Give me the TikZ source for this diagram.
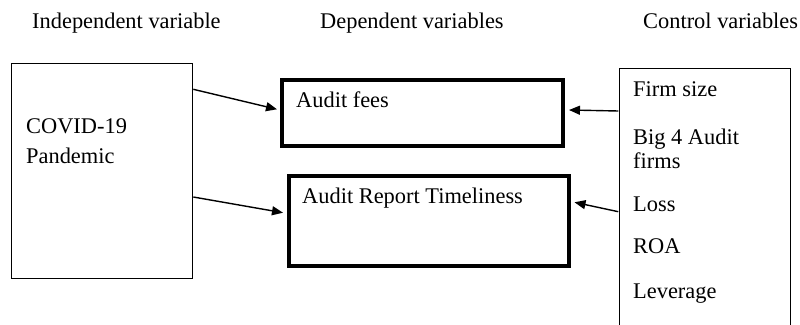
\documentclass[tikz,border=0pt]{standalone}
\usepackage{fontspec}
\setmainfont{Liberation Serif}
\usetikzlibrary{arrows.meta,calc}
\begin{document}
\begin{tikzpicture}[x=1pt,y=-1pt,
  lbl/.style={anchor=base west, inner sep=0pt, font=\fontsize{22.4}{26}\selectfont},
  thinbox/.style={draw, line width=1pt, inner sep=0pt, anchor=north west},
  thickbox/.style={draw, line width=4pt, inner sep=0pt, anchor=north west},
  arr/.style={line width=1.4pt, -{Triangle[length=11pt,width=9pt]}}]
\useasboundingbox (0,0) rectangle (800,324);
\clip (0,0) rectangle (800,324);
% headers
\node[lbl] (h1) at (32,28) {Independent variable};
\node[lbl] (h2) at (320,28) {Dependent variables};
\node[lbl] (h3) at (643,28) {Control variables};
% boxes
\node[thinbox, minimum width=180.6pt, minimum height=215.4pt] (cov) at (11.2,62.8) {};
\node[thickbox, minimum width=281pt, minimum height=66.5pt] (fees) at (280,77.5) {};
\node[thickbox, minimum width=279.5pt, minimum height=90pt] (art) at (287,174) {};
\node[thinbox, minimum width=171.4pt, minimum height=280pt] (ctrl) at (618.8,67.8) {};
% texts
\node[lbl] (t1) at (26,133) {COVID-19};
\node[lbl] (t2) at (26,163) {Pandemic};
\node[lbl] (t3) at (296,107) {Audit fees};
\node[lbl] (t4) at (302,203) {Audit Report Timeliness};
\node[lbl] (c1) at (633,96) {Firm size};
\node[lbl] (c2) at (633,144) {Big 4 Audit};
\node[lbl] (c3) at (633,168) {firms};
\node[lbl] (c4) at (633,211) {Loss};
\node[lbl] (c5) at (633,253) {ROA};
\node[lbl] (c6) at (633,298) {Leverage};
% arrows
\draw[arr] ($(cov.north east)+(0.5,26.5)$) -- ($(fees.north west)+(-3,31.8)$);
\draw[arr] ($(cov.north east)+(0.5,134.2)$) -- ($(art.north west)+(-4,38.7)$);
\draw[arr] ($(ctrl.north west)+(-0.5,43.2)$) -- ($(fees.north east)+(4,32.5)$);
\draw[arr] ($(ctrl.north west)+(-0.5,143.9)$) -- ($(art.north east)+(4,28.3)$);
\end{tikzpicture}
\end{document}
